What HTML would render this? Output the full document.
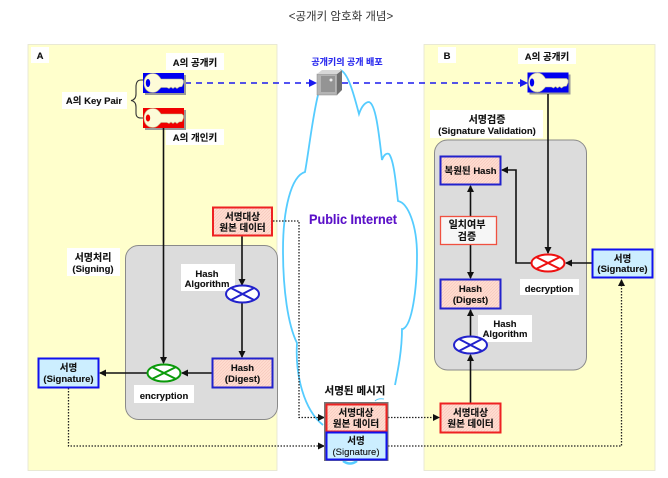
<!DOCTYPE html>
<html><head><meta charset="utf-8">
<style>
html,body{margin:0;padding:0;background:#fff;width:668px;height:478px;overflow:hidden}
svg{display:block;filter:blur(.35px)}
text{font-family:"Liberation Sans","Noto Sans CJK KR",sans-serif;font-size:9.500px;font-weight:bold;fill:#111;text-anchor:middle;stroke:#111;stroke-width:.12px}
</style></head><body>
<svg width="668" height="478" viewBox="0 0 668 478" xmlns="http://www.w3.org/2000/svg">
<defs>
<pattern id="pk" width="3" height="3" patternUnits="userSpaceOnUse"><rect width="3" height="3" fill="#ffdcd0"/><path d="M0 3L3 0" stroke="#f6c8bc" stroke-width=".7"/></pattern>
<marker id="ah" markerWidth="7" markerHeight="7" refX="6" refY="3.500" orient="auto" markerUnits="userSpaceOnUse"><path d="M0 0L7 3.500L0 7Z" fill="#111"/></marker>
<marker id="ab" markerWidth="8" markerHeight="8" refX="7" refY="4" orient="auto" markerUnits="userSpaceOnUse"><path d="M0 0L8 4L0 8Z" fill="#1a1aee"/></marker>
<g id="key">
<rect x="2" y="2" width="41" height="20" fill="#999"/>
<rect x="0" y="0" width="41" height="20"/>
<path d="M10 .5C4 .5 1 5 1 10C1 15 4 19.500 10 19.500C14 19.500 16 16.500 18 14.500H24L26 15.500L28 14L30 15.500L32 14L34 15.500L36 14L39 13.500L40.500 10V7.500L39 6H18C16 3 14 .5 10 .5Z" fill="#fdfbd8" stroke="#bdbb90" stroke-width=".6"/>
</g>
</defs>
<rect width="668" height="478" fill="#fff"/>
<text x="341" y="20" style="font-size:11.500px;font-weight:normal;fill:#333;stroke:none">&lt;공개키 암호화 개념&gt;</text>

<rect x="28" y="44.500" width="249" height="426" fill="#ffffcc" stroke="#e4e4d0" stroke-width=".8"/>
<rect x="424" y="44.500" width="231" height="426" fill="#ffffcc" stroke="#e4e4d0" stroke-width=".8"/>

<rect x="125.500" y="245.500" width="152" height="174" rx="13" fill="#dcdcdc" stroke="#8a8a8a"/>
<rect x="434.500" y="140" width="152" height="230" rx="13" fill="#dcdcdc" stroke="#8a8a8a"/>

<!-- cloud -->
<path d="M340 70C330 80 322 90 318 95L305 172L283 250L297 343L323 425L395 385L402 329L417 255L398 201L382 160L359 114Z" fill="#fff"/>
<path d="M318 95C312 120 309 150 305 172C291 176 283 210 283 250C283 290 288 325 297 343C295 375 304 410 323 425" fill="none" stroke="#55ccff" stroke-width="1.800"/>
<path d="M340 70C348 72 354 95 359 114C362 105 366 102 369 102C376 104 379 135 382 160C384 154 387 153 389 154C394 160 396 185 398 201C408 203 417 225 417 255C417 290 412 325 403 329H402C402 350 398 370 395 385" fill="none" stroke="#55ccff" stroke-width="1.800"/>
<path d="M343 461Q350 466 357 461" fill="none" stroke="#55ccff" stroke-width="2.500"/>
<path d="M375 401Q378 398 384 399" fill="none" stroke="#55ccff" stroke-width="1"/>
<text x="353" y="224" style="font-size:14px;fill:#5a10c8;stroke:#5a10c8;font-family:'Liberation Sans',sans-serif" textLength="88" lengthAdjust="spacingAndGlyphs">Public Internet</text>

<!-- label backgrounds -->
<g fill="#fff">
<rect x="31" y="47" width="18" height="16"/>
<rect x="166" y="53" width="58" height="17"/>
<rect x="62" y="92" width="65" height="17"/>
<rect x="166" y="129" width="58" height="16"/>
<rect x="67" y="248" width="53" height="28"/>
<rect x="181" y="264" width="54" height="27"/>
<rect x="134" y="385" width="60" height="18"/>
<rect x="438" y="47" width="18" height="16"/>
<rect x="518" y="48" width="58" height="16"/>
<rect x="430" y="110" width="113" height="28"/>
<rect x="520" y="279" width="59" height="16"/>
<rect x="478" y="315" width="54" height="27"/>
</g>

<!-- dashed blue -->
<line x1="185" y1="83" x2="316" y2="83" stroke="#1a1aee" stroke-width="1.500" stroke-dasharray="6 5" marker-end="url(#ab)"/>
<line x1="342" y1="83" x2="527" y2="83" stroke="#1a1aee" stroke-width="1.500" stroke-dasharray="6 5" marker-end="url(#ab)"/>
<text x="347" y="65" style="fill:#2a2aee;stroke:#2a2aee;font-size:9px">공개키의 공개 배포</text>

<!-- server -->
<rect x="317" y="74" width="20" height="21" fill="#b4b4b4" stroke="#888" stroke-width=".5"/>
<path d="M337 74L342 70V90L337 95Z" fill="#707070"/>
<path d="M317 74L322 70H342L337 74Z" fill="#d8d8d8"/>
<rect x="321" y="76" width="14" height="16" fill="#949494"/>
<circle cx="331" cy="80" r="1.500" fill="#eee"/>

<!-- keys -->
<use href="#key" x="143" y="73" fill="#0000f0"/>
<use href="#key" x="143" y="108" fill="#f00000"/>
<use href="#key" x="527.500" y="72.500" fill="#0000f0"/>
<ellipse cx="148" cy="83" rx="2.200" ry="4" fill="#0000f0"/>
<ellipse cx="148" cy="118" rx="2.200" ry="3.500" fill="#f00000"/>
<ellipse cx="532" cy="82.500" rx="2.200" ry="4" fill="#0000f0"/>

<!-- brace -->
<path d="M143 80H141C137 80 136 83 136 87V94C136 98 134 100 131 100.500C134 101 136 103 136 107V113C136 116 137 118 141 118H143" fill="none" stroke="#333" stroke-width="1.100"/>

<!-- labels -->
<text x="40" y="59">A</text>
<text x="195" y="66">A의 공개키</text>
<text x="94" y="104">A의 Key Pair</text>
<text x="195" y="141">A의 개인키</text>
<text x="93" y="261" style="font-size:10px">서명처리</text>
<text x="93" y="272">(Signing)</text>
<text x="207" y="277">Hash</text>
<text x="207" y="287">Algorithm</text>
<text x="164" y="399">encryption</text>
<text x="447" y="59">B</text>
<text x="547" y="60">A의 공개키</text>
<text x="487" y="123" style="font-size:10px">서명검증</text>
<text x="487" y="134">(Signature Validation)</text>
<text x="549" y="292">decryption</text>
<text x="505" y="327">Hash</text>
<text x="505" y="337">Algorithm</text>
<text x="355" y="394" style="font-size:10.500px">서명된 메시지</text>

<!-- black connectors -->
<g fill="none" stroke="#111" stroke-width="1.600">
<line x1="163.500" y1="128" x2="163.500" y2="363" marker-end="url(#ah)"/>
<line x1="242" y1="236" x2="242" y2="285" marker-end="url(#ah)"/>
<line x1="242" y1="303" x2="242" y2="357" marker-end="url(#ah)"/>
<line x1="212" y1="373" x2="182" y2="373" marker-end="url(#ah)"/>
<line x1="147" y1="373" x2="100" y2="373" marker-end="url(#ah)"/>
<line x1="548" y1="94" x2="548" y2="253" marker-end="url(#ah)"/>
<path d="M531 263H516V170H502" marker-end="url(#ah)"/>
<line x1="592" y1="263" x2="566" y2="263" marker-end="url(#ah)"/>
<line x1="470.500" y1="216" x2="470.500" y2="186" marker-end="url(#ah)"/>
<line x1="470.500" y1="245" x2="470.500" y2="278" marker-end="url(#ah)"/>
<line x1="470.500" y1="336" x2="470.500" y2="310" marker-end="url(#ah)"/>
<line x1="470.500" y1="403" x2="470.500" y2="355" marker-end="url(#ah)"/>
</g>

<!-- dotted -->
<g fill="none" stroke="#222" stroke-width="1.300" stroke-dasharray="1.500 1.500">
<path d="M273 221H299V417.500H324" marker-end="url(#ah)"/>
<path d="M68.500 388V446H324" marker-end="url(#ah)"/>
<line x1="388" y1="417.500" x2="439" y2="417.500" marker-end="url(#ah)"/>
<path d="M388 446H621.500V280" marker-end="url(#ah)"/>
</g>

<!-- ellipses -->
<g fill="#fff" stroke-width="2">
<g stroke="#2222cc"><ellipse cx="242.500" cy="294" rx="16.500" ry="8.500"/><path d="M231 288L254 300M231 300L254 288" fill="none"/></g>
<g stroke="#0a9a0a"><ellipse cx="164" cy="373" rx="16.500" ry="8.500"/><path d="M152 367L176 379M152 379L176 367" fill="none"/></g>
<g stroke="#ee1111"><ellipse cx="548" cy="263" rx="16.500" ry="8.500"/><path d="M536 257L560 269M536 269L560 257" fill="none"/></g>
<g stroke="#2222cc"><ellipse cx="470.500" cy="345" rx="16.500" ry="8.500"/><path d="M459 339L482 351M459 351L482 339" fill="none"/></g>
</g>

<!-- boxes -->
<g stroke-width="2">
<rect x="213" y="207.500" width="59" height="28" fill="url(#pk)" stroke="#ee2222"/>
<rect x="212.500" y="358.500" width="60" height="29" fill="url(#pk)" stroke="#2222cc"/>
<rect x="38.500" y="358.500" width="60" height="29" fill="#cceeff" stroke="#1111ee"/>
<rect x="440.500" y="156.500" width="60" height="28" fill="url(#pk)" stroke="#2222cc"/>
<rect x="440.500" y="216.500" width="56" height="28" fill="#f6f6f6" stroke="#f05040" stroke-width="1.300"/>
<rect x="440.500" y="279.500" width="60" height="29" fill="url(#pk)" stroke="#2222cc"/>
<rect x="592.500" y="249.500" width="60" height="28" fill="#cceeff" stroke="#1111ee"/>
<rect x="440.500" y="403.500" width="60" height="29" fill="url(#pk)" stroke="#ee2222"/>
<rect x="324" y="402" width="64.500" height="59" fill="#777"/>
<rect x="326.500" y="404.500" width="60" height="27" fill="url(#pk)" stroke="#ee2222"/>
<rect x="326.500" y="432.500" width="60" height="27" fill="#cceeff" stroke="#1111ee"/>
</g>

<!-- box text -->
<text x="242.500" y="220">서명대상</text><text x="242.500" y="231">원본 데이터</text>
<text x="242.500" y="371">Hash</text><text x="242.500" y="382">(Digest)</text>
<text x="68.500" y="371">서명</text><text x="68.500" y="382">(Signature)</text>
<text x="470.500" y="174">복원된 Hash</text>
<text x="467" y="228" style="font-size:10px">일치여부</text><text x="467" y="240" style="font-size:10px">검증</text>
<text x="470.500" y="292">Hash</text><text x="470.500" y="303">(Digest)</text>
<text x="622.500" y="262">서명</text><text x="622.500" y="272">(Signature)</text>
<text x="470.500" y="416">서명대상</text><text x="470.500" y="427">원본 데이터</text>
<text x="356" y="416">서명대상</text><text x="356" y="427">원본 데이터</text>
<text x="356" y="444">서명</text><text x="356" y="455" style="font-weight:normal">(Signature)</text>
</svg>
</body></html>
